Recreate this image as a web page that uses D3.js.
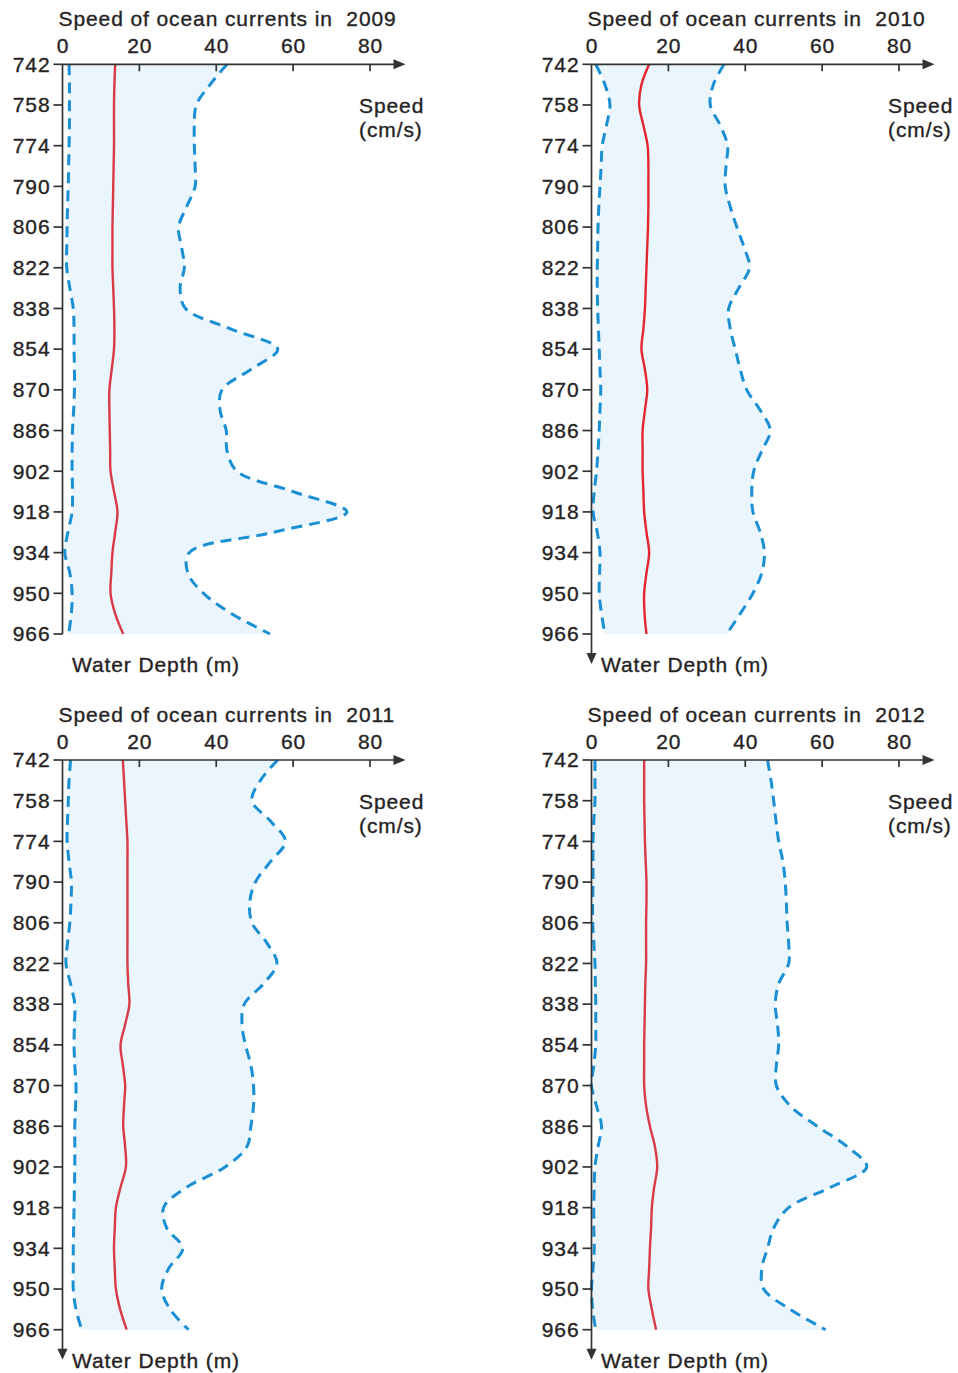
<!DOCTYPE html>
<html>
<head>
<meta charset="utf-8">
<script src="https://cdn.jsdelivr.net/npm/d3@7"></script>
<style>
  html, body { margin: 0; padding: 0; background: #fff; }
  svg { display: block; }
  text { font-family: "Liberation Sans", Arial, Helvetica, sans-serif; fill: #262324; stroke: #262324; stroke-width: 0.35px; }
</style>
</head>
<body>
<svg id="chart" width="958" height="1373"></svg>
<script>
// ---------- data ----------
const years = ["2009", "2010", "2011", "2012"];
const depths = [742, 750, 758, 766, 774, 782, 790, 798, 806, 814, 822, 830, 838, 846, 854,
                862, 870, 878, 886, 894, 902, 910, 918, 926, 934, 942, 950, 958, 966];
const depthTicks = [742, 758, 774, 790, 806, 822, 838, 854, 870, 886, 902, 918, 934, 950, 966];
const speedTicks = [0, 20, 40, 60, 80];

const max2009  = [42.8, 38.4, 34.8, 34.3, 34.3, 34.5, 34.5, 32.3, 30.2, 31.0, 31.7, 30.6, 32.0, 43.7, 56.0,
                  49.0, 41.5, 41.0, 42.6, 42.8, 45.4, 60.0, 74.0, 55.0, 33.0, 32.6, 36.7, 44.0, 54.0];
const min2009  = [1.7, 1.8, 1.8, 1.8, 1.7, 1.6, 1.5, 1.3, 1.2, 1.1, 1.1, 1.9, 2.8, 3.0, 3.0,
                  3.1, 3.1, 2.9, 2.6, 2.5, 2.5, 2.6, 2.5, 1.4, 0.6, 1.9, 2.5, 2.3, 1.6];
const mean2009 = [13.7, 13.5, 13.4, 13.4, 13.4, 13.3, 13.2, 13.1, 13.0, 13.0, 13.0, 13.2, 13.4, 13.5, 13.4,
                  12.8, 12.2, 12.2, 12.3, 12.4, 12.5, 13.4, 14.3, 13.7, 13.0, 12.7, 12.5, 13.7, 15.8];

const max2010  = [34.5, 31.7, 30.9, 33.5, 35.4, 35.0, 34.8, 36.1, 37.8, 39.7, 41.1, 38.3, 35.7, 36.1, 37.4,
                  38.7, 40.4, 43.9, 46.5, 44.3, 42.2, 41.7, 42.0, 43.9, 45.0, 44.3, 42.0, 38.7, 35.2];
const min2010  = [1.1, 3.5, 4.8, 3.9, 2.8, 2.5, 2.2, 1.9, 1.7, 1.6, 1.5, 1.5, 1.6, 1.8, 2.0,
                  2.2, 2.4, 2.2, 2.0, 1.7, 1.3, 0.7, 0.4, 1.5, 2.2, 2.1, 2.0, 2.6, 3.5];
const mean2010 = [15.0, 13.0, 12.4, 13.5, 14.6, 14.8, 14.8, 14.8, 14.7, 14.5, 14.3, 14.1, 13.9, 13.5, 13.0,
                  13.9, 14.5, 13.9, 13.3, 13.3, 13.3, 13.5, 13.7, 14.3, 15.0, 14.3, 13.7, 13.8, 14.3];

const max2011  = [56.0, 51.5, 49.3, 54.1, 58.0, 54.1, 50.2, 48.7, 49.3, 53.2, 55.8, 52.3, 47.3, 46.7, 47.6,
                  49.0, 49.7, 49.7, 49.0, 48.0, 42.3, 32.3, 26.3, 27.1, 31.3, 27.6, 25.8, 28.0, 32.8];
const min2011  = [2.1, 1.7, 1.5, 1.3, 1.2, 1.7, 2.3, 2.2, 1.9, 1.3, 0.9, 2.1, 3.2, 3.1, 3.0,
                  3.2, 3.5, 3.4, 3.2, 3.2, 3.2, 3.1, 3.0, 2.9, 2.8, 2.8, 2.8, 3.5, 5.0];
const mean2011 = [15.7, 16.0, 16.3, 16.6, 16.9, 16.9, 16.9, 16.9, 16.9, 16.9, 16.9, 17.1, 17.4, 16.3, 15.1,
                  15.7, 16.3, 16.0, 15.8, 16.3, 16.5, 15.1, 13.9, 13.6, 13.4, 13.6, 13.9, 15.0, 16.7];

const max2012  = [45.8, 46.7, 47.4, 48.0, 48.7, 49.8, 50.4, 50.7, 50.9, 51.3, 51.3, 48.7, 47.8, 48.4, 48.7,
                  48.1, 48.1, 51.7, 58.7, 66.5, 71.6, 62.2, 51.3, 47.4, 45.8, 44.3, 44.8, 51.7, 60.9];
const min2012  = [0.9, 0.9, 0.9, 0.6, 0.4, 0.4, 0.4, 0.3, 0.3, 0.6, 0.9, 1.0, 1.1, 1.1, 1.1,
                  0.6, 0.0, 1.3, 2.6, 1.7, 0.9, 0.7, 0.6, 0.6, 0.7, 0.4, 0.0, 0.3, 1.1];
const mean2012 = [13.7, 13.7, 13.7, 13.8, 13.9, 14.1, 14.3, 14.3, 14.2, 14.2, 14.2, 14.0, 13.9, 13.8, 13.7,
                  13.7, 13.7, 14.2, 15.2, 16.5, 17.1, 16.3, 15.7, 15.5, 15.2, 15.0, 14.8, 15.7, 16.8];

const seriesMax  = [max2009, max2010, max2011, max2012];
const seriesMin  = [min2009, min2010, min2011, min2012];
const seriesMean = [mean2009, mean2010, mean2011, mean2012];

// ---------- layout ----------
const panels = [
  { x0: 62.5,  yTop: 64.3, arrowDown: false },
  { x0: 591.5, yTop: 64.3, arrowDown: true },
  { x0: 62.5,  yTop: 760,  arrowDown: true },
  { x0: 591.5, yTop: 760,  arrowDown: true }
];
const plotW = 307.5, plotH = 569.7;
const axisColor = "#333";
const svg = d3.select("#chart");

panels.forEach((p, i) => {
  const x = d3.scaleLinear().domain([0, 80]).range([p.x0, p.x0 + plotW]);
  const y = d3.scaleLinear().domain([742, 966]).range([p.yTop, p.yTop + plotH]);
  const g = svg.append("g");
  const rows = depths.map((d, k) => ({ d, lo: seriesMin[i][k], hi: seriesMax[i][k], m: seriesMean[i][k] }));
  const curve = d3.curveCatmullRom.alpha(0.5);

  // fill between min and max
  g.append("path")
    .datum(rows)
    .attr("d", d3.area().y(r => y(r.d)).x0(r => x(r.lo)).x1(r => x(r.hi)).curve(curve))
    .attr("fill", "#eaf5fd");

  const dashed = (key) => g.append("path")
    .datum(rows)
    .attr("d", d3.line().y(r => y(r.d)).x(r => x(r[key])).curve(curve))
    .attr("fill", "none")
    .attr("stroke", "#1a8fd3")
    .attr("stroke-width", 3)
    .attr("stroke-dasharray", "11,7");
  dashed("lo");
  dashed("hi");

  g.append("path")
    .datum(rows)
    .attr("d", d3.line().y(r => y(r.d)).x(r => x(r.m)).curve(curve))
    .attr("fill", "none")
    .attr("stroke", i === 1 ? "#e3262e" : "#d93a45")
    .attr("stroke-width", 2.4);

  // x axis (top) with arrow
  const xEnd = p.x0 + 343;
  g.append("line").attr("x1", p.x0).attr("x2", xEnd - 8).attr("y1", p.yTop).attr("y2", p.yTop)
    .attr("stroke", axisColor).attr("stroke-width", 1.7);
  g.append("path")
    .attr("d", `M${xEnd},${p.yTop} L${xEnd - 12},${p.yTop - 5} L${xEnd - 12},${p.yTop + 5} Z`)
    .attr("fill", axisColor);
  speedTicks.forEach(t => {
    if (t > 0) {
      g.append("line").attr("x1", x(t)).attr("x2", x(t)).attr("y1", p.yTop).attr("y2", p.yTop + 7)
        .attr("stroke", axisColor).attr("stroke-width", 1.7);
    }
    g.append("text").attr("x", x(t) + 0.5).attr("y", p.yTop - 11)
      .attr("text-anchor", "middle").attr("font-size", 21).attr("letter-spacing", 0.9)
      .text(t);
  });

  // y axis (left)
  const yBottom = p.arrowDown ? p.yTop + plotH + 30 : p.yTop + plotH;
  g.append("line").attr("x1", p.x0).attr("x2", p.x0).attr("y1", p.yTop).attr("y2", p.arrowDown ? yBottom - 8 : yBottom)
    .attr("stroke", axisColor).attr("stroke-width", 1.7);
  if (p.arrowDown) {
    g.append("path")
      .attr("d", `M${p.x0},${yBottom} L${p.x0 - 5},${yBottom - 11} L${p.x0 + 5},${yBottom - 11} Z`)
      .attr("fill", axisColor);
  }
  depthTicks.forEach(t => {
    g.append("line").attr("x1", p.x0 - 9).attr("x2", p.x0).attr("y1", y(t)).attr("y2", y(t))
      .attr("stroke", axisColor).attr("stroke-width", 1.7);
    g.append("text").attr("x", p.x0 - 12).attr("y", y(t) + 7.3)
      .attr("text-anchor", "end").attr("font-size", 21).attr("letter-spacing", 0.9)
      .text(t);
  });

  // titles / labels
  g.append("text").attr("x", p.x0 - 4).attr("y", p.yTop - 38)
    .attr("font-size", 21).attr("letter-spacing", 0.9)
    .attr("xml:space", "preserve").style("white-space", "pre")
    .text("Speed of ocean currents in  " + years[i]);
  g.append("text").attr("x", p.x0 + 296.5).attr("y", p.yTop + 49)
    .attr("font-size", 21).attr("letter-spacing", 0.9).text("Speed");
  g.append("text").attr("x", p.x0 + 296.5).attr("y", p.yTop + 72.5)
    .attr("font-size", 21).attr("letter-spacing", 0.9).text("(cm/s)");
  g.append("text").attr("x", p.x0 + 9.5).attr("y", p.yTop + plotH + 38)
    .attr("font-size", 21).attr("letter-spacing", 0.9).text("Water Depth (m)");
});
</script>
</body>
</html>
